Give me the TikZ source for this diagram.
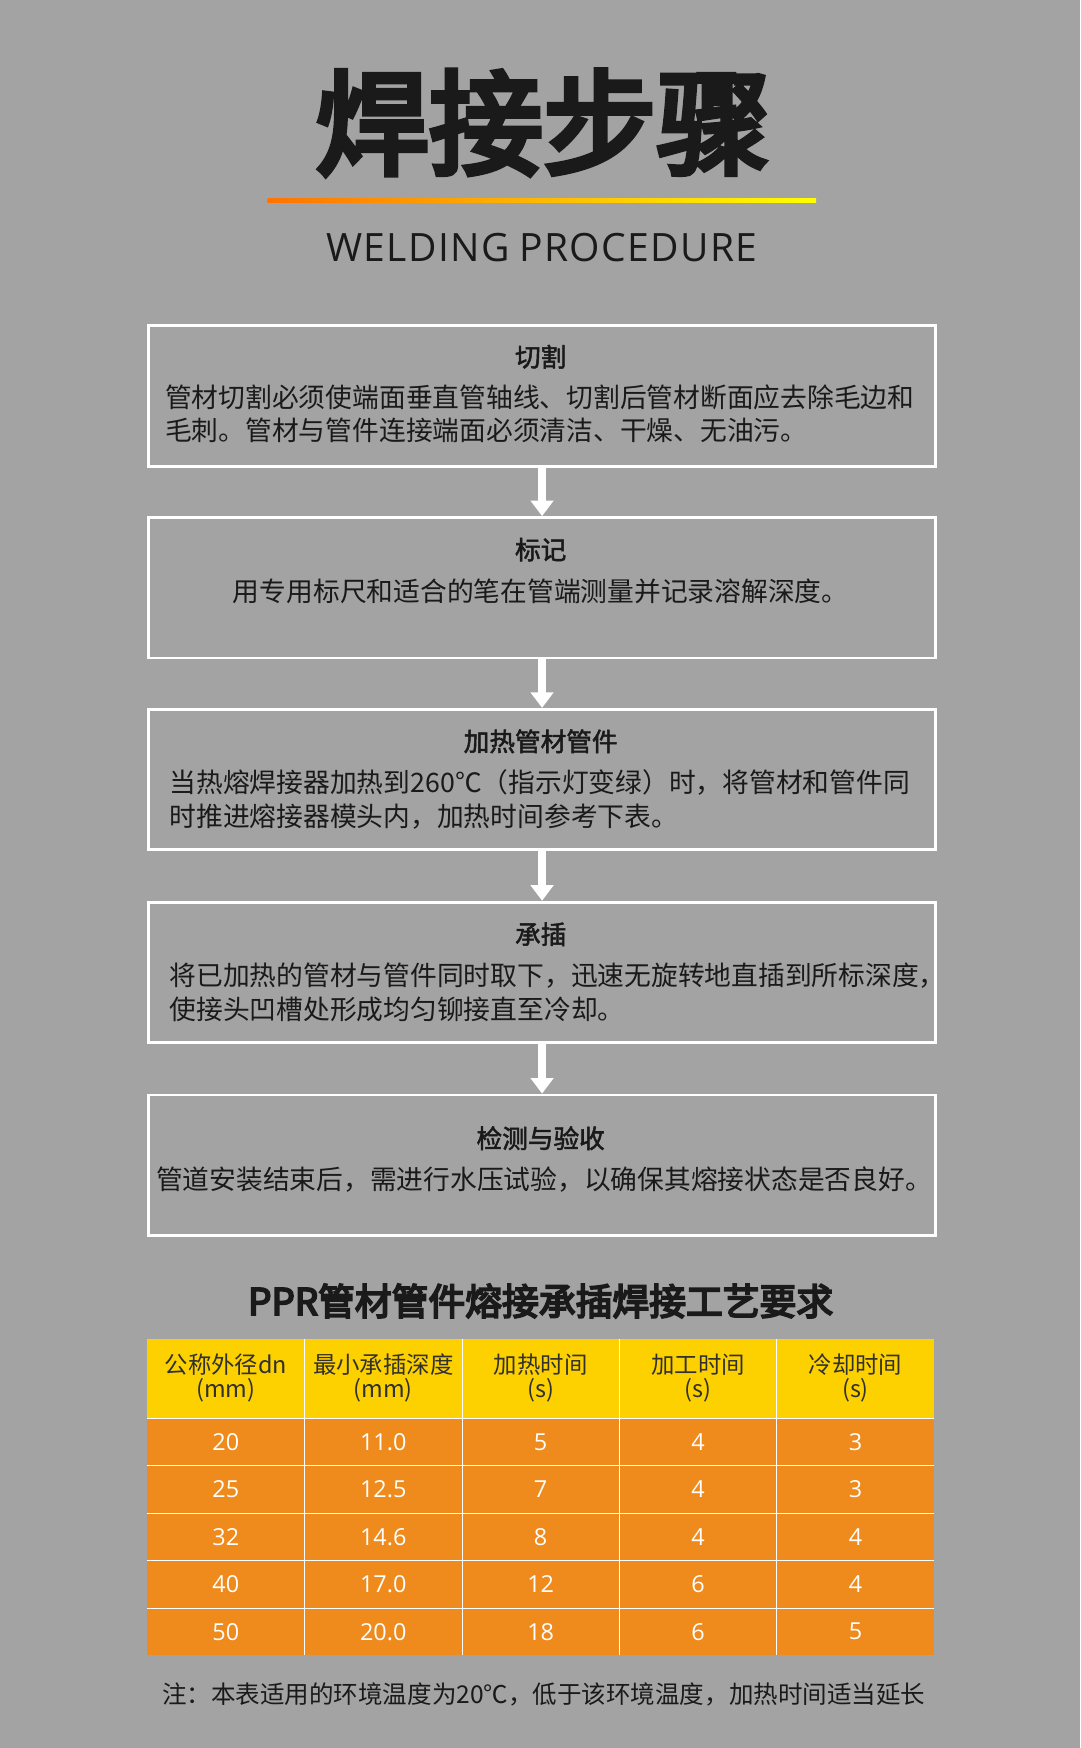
\documentclass[tikz,border=0pt]{standalone}
\usepackage{fontspec}
\setmainfont{Noto Sans CJK SC}
\newfontfamily\cjkb{Noto Sans CJK SC}[FakeBold=2]
\newfontfamily\cjkh{Noto Sans CJK SC}[FakeBold=5]
\newfontfamily\latinf{Open Sans}
\usetikzlibrary{arrows.meta}
\definecolor{bg}{HTML}{A3A3A3}
\definecolor{ttl}{HTML}{1A1A1A}
\definecolor{yel}{HTML}{FDD000}
\definecolor{org}{HTML}{EF8A1C}
\tikzset{x=1pt,y=-1pt,
 stepbox/.style={draw=white,line width=2.5pt,minimum width=706pt,minimum height=126pt,anchor=north west,inner sep=0},
 head/.style={font=\cjkb\fontsize{23}{26}\selectfont,text=ttl},
 body/.style={font=\fontsize{24}{30}\selectfont,text=ttl,align=left,anchor=west,inner sep=0},
 flow/.style={draw=white,line width=7pt,-{Triangle[width=20pt,length=14pt]}},
 hcell/.style={font=\fontsize{21}{22}\selectfont,text=ttl!90,align=center},
 dcell/.style={font=\latinf\fontsize{21}{22}\selectfont,text=white}}
\begin{document}
\begin{tikzpicture}
\fill[bg] (0,0) rectangle (969,1568);
\useasboundingbox (0,0) rectangle (969,1568);
\node[font=\cjkh\fontsize{102}{106}\selectfont,text=ttl] (title) at (487,110) {焊接步骤};
\shade[left color=orange!90!red,right color=yellow] (240,178) rectangle (732,182);
\node[font=\latinf\fontsize{35}{40}\selectfont,text=ttl] (sub) at (486,222) {W\kern1.2pt E\kern1.2pt L\kern1.2pt D\kern1.2pt I\kern1.2pt N\kern1.2pt G P\kern1.2pt R\kern1.2pt O\kern1.2pt C\kern1.2pt E\kern1.2pt D\kern1.2pt U\kern1.2pt R\kern1.2pt E};
% boxes
\node[stepbox] (b1) at (132,291) {};
\node[stepbox] (b2) at (132,463) {};
\node[stepbox] (b3) at (132,635) {};
\node[stepbox] (b4) at (132,808) {};
\node[stepbox] (b5) at (132,981) {};
\node[head] (h1) at (485,320) {切割};
\node[body] (t1) at (148,371) {管材切割必须使端面垂直管轴线、切割后管材断面应去除毛边和\\毛刺。管材与管件连接端面必须清洁、干燥、无油污。};
\node[head] (h2) at (485,493) {标记};
\node[body,anchor=center] (t2) at (485,530) {用专用标尺和适合的笔在管端测量并记录溶解深度。};
\node[head] (h3) at (485,665) {加热管材管件};
\node[body] (t3) at (152,717) {当热熔焊接器加热到260℃（指示灯变绿）时，将管材和管件同\\时推进熔接器模头内，加热时间参考下表。};
\node[head] (h4) at (485,838) {承插};
\node[body] (t4) at (152,890) {将已加热的管材与管件同时取下，迅速无旋转地直插到所标深度，\\使接头凹槽处形成均匀铆接直至冷却。};
\node[head] (h5) at (485,1021) {检测与验收};
\node[body,anchor=center] (t5) at (488,1058) {管道安装结束后，需进行水压试验，以确保其熔接状态是否良好。};
\draw[flow] (b1.south) -- (b2.north);
\draw[flow] (b2.south) -- (b3.north);
\draw[flow] (b3.south) -- (b4.north);
\draw[flow] (b4.south) -- (b5.north);
% table
\node[font=\cjkh\fontsize{33}{36}\selectfont,text=ttl] (tt) at (485,1167) {PPR管材管件熔接承插焊接工艺要求};
\fill[yel] (132,1201) rectangle (838,1272);
\fill[org] (132,1272) rectangle (838,1485);
\foreach \i in {1,...,4} \draw[white,line width=0.8pt] (132+\i*141.2,1201) -- (132+\i*141.2,1485);
\foreach \j in {0,...,4} \draw[white,line width=0.8pt] (132,1272+\j*42.6) -- (838,1272+\j*42.6);
\foreach \t [count=\c from 0] in {公称外径dn\\(mm),最小承插深度\\(mm),加热时间\\(s),加工时间\\(s),冷却时间\\(s)}
  \node[hcell] (hc\c) at (202.6+\c*141.2,1236) {\t};
\foreach \r [count=\j from 0] in {{20,11.0,5,4,3},{25,12.5,7,4,3},{32,14.6,8,4,4},{40,17.0,12,6,4},{50,20.0,18,6,5}}
  \foreach \v [count=\c from 0] in \r
    \node[dcell] (d\j\c) at (202.6+\c*141.2,1293.3+\j*42.6) {\v};
\node[font=\fontsize{22}{24}\selectfont,text=ttl,anchor=west] (note) at (142,1520) {注：本表适用的环境温度为20℃，低于该环境温度，加热时间适当延长};
\end{tikzpicture}
\end{document}
